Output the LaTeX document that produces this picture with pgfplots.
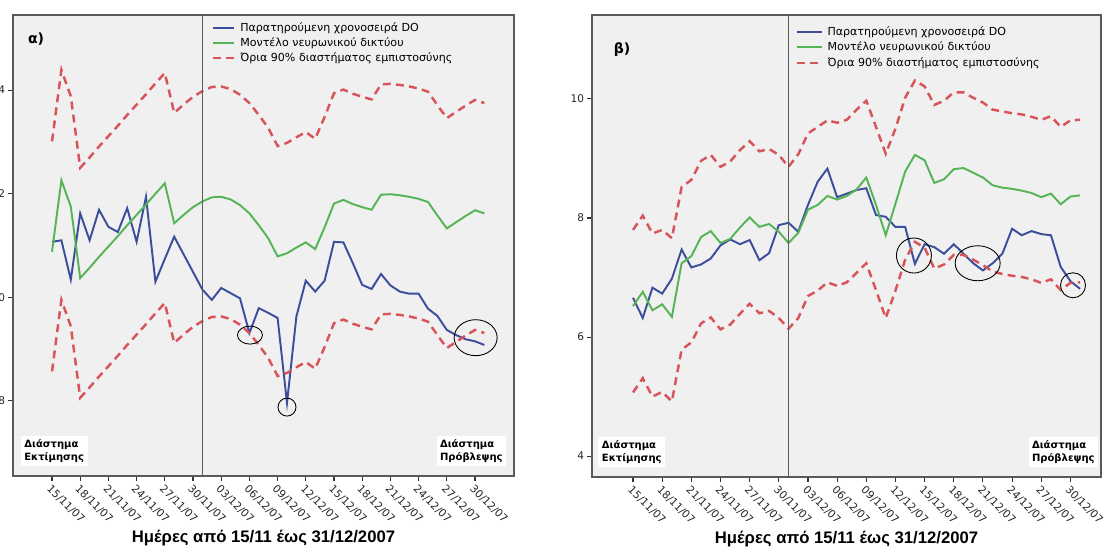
\documentclass[border=0pt]{standalone}
\usepackage{pgfplots}
\usepackage{pgfplotstable}
\pgfplotsset{compat=1.18}
\usepackage{fontspec}
\setmainfont{DejaVu Sans}
\newfontfamily\arialfont{Liberation Sans}

\definecolor{obsblue}{RGB}{60,78,155}
\definecolor{nngreen}{RGB}{85,180,85}
\definecolor{cired}{RGB}{215,85,90}
\definecolor{bgray}{RGB}{240,240,240}
\definecolor{framegray}{RGB}{90,90,90}

\pgfplotstableread{
d obs nn up lo
0 11.07 10.88 13.01 8.57
1 11.10 12.26 14.39 9.95
2 10.34 11.75 13.88 9.44
3 11.62 10.37 12.50 8.06
4 11.10 10.57 12.70 8.26
5 11.69 10.78 12.91 8.47
6 11.36 10.98 13.11 8.67
7 11.26 11.18 13.31 8.87
8 11.72 11.39 13.52 9.08
9 11.07 11.59 13.72 9.28
10 11.94 11.79 13.92 9.48
11 10.30 12.00 14.13 9.69
12 10.74 12.20 14.33 9.89
13 11.17 11.43 13.56 9.12
14 10.83 11.59 13.72 9.28
15 10.49 11.74 13.87 9.43
16 10.15 11.85 13.98 9.54
17 9.95 11.93 14.06 9.62
18 10.18 11.94 14.07 9.63
19 10.08 11.89 14.02 9.58
20 9.98 11.78 13.91 9.47
21 9.31 11.62 13.75 9.31
22 9.79 11.39 13.52 9.08
23 9.70 11.14 13.27 8.83
24 9.60 10.79 12.92 8.48
25 7.96 10.85 12.98 8.54
26 9.63 10.96 13.09 8.65
27 10.32 11.06 13.19 8.75
28 10.11 10.93 13.06 8.62
29 10.32 11.35 13.48 9.04
30 11.07 11.81 13.94 9.50
31 11.06 11.88 14.01 9.57
32 10.66 11.80 13.93 9.49
33 10.24 11.74 13.87 9.43
34 10.16 11.69 13.82 9.38
35 10.45 11.98 14.11 9.67
36 10.23 11.99 14.12 9.68
37 10.11 11.97 14.10 9.66
38 10.07 11.94 14.07 9.63
39 10.07 11.90 14.03 9.59
40 9.78 11.84 13.97 9.53
41 9.64 11.58 13.71 9.27
42 9.37 11.33 13.46 9.02
43 9.27 11.45 13.58 9.14
44 9.19 11.57 13.70 9.26
45 9.15 11.68 13.81 9.37
46 9.08 11.62 13.75 9.31
}\leftdata

\pgfplotstableread{
d obs nn up lo
0 6.66 6.52 7.80 5.07
1 6.32 6.76 8.04 5.31
2 6.83 6.45 7.74 5.00
3 6.73 6.55 7.80 5.08
4 6.98 6.34 7.66 4.92
5 7.47 7.24 8.52 5.79
6 7.17 7.36 8.64 5.91
7 7.22 7.68 8.96 6.23
8 7.32 7.78 9.06 6.33
9 7.54 7.58 8.86 6.13
10 7.64 7.65 8.95 6.21
11 7.56 7.84 9.14 6.39
12 7.63 8.01 9.29 6.56
13 7.29 7.85 9.12 6.40
14 7.41 7.90 9.16 6.44
15 7.88 7.77 9.06 6.32
16 7.92 7.58 8.86 6.14
17 7.77 7.75 9.07 6.32
18 8.22 8.14 9.42 6.69
19 8.61 8.22 9.53 6.78
20 8.83 8.37 9.64 6.92
21 8.35 8.31 9.60 6.86
22 8.41 8.37 9.65 6.92
23 8.47 8.48 9.82 7.08
24 8.50 8.68 9.97 7.24
25 8.05 8.22 9.53 6.79
26 8.02 7.71 9.08 6.32
27 7.85 8.24 9.50 6.78
28 7.85 8.78 10.02 7.30
29 7.23 9.06 10.31 7.60
30 7.56 8.97 10.21 7.50
31 7.51 8.59 9.90 7.15
32 7.40 8.65 9.97 7.22
33 7.56 8.82 10.11 7.38
34 7.40 8.84 10.11 7.38
35 7.24 8.76 10.02 7.30
36 7.12 8.68 9.94 7.21
37 7.24 8.55 9.82 7.10
38 7.40 8.51 9.79 7.06
39 7.82 8.49 9.76 7.03
40 7.71 8.46 9.74 7.01
41 7.78 8.42 9.70 6.97
42 7.73 8.35 9.65 6.91
43 7.71 8.41 9.71 6.97
44 7.18 8.23 9.53 6.79
45 6.94 8.36 9.64 6.91
46 6.81 8.38 9.65 6.92
}\rightdata

\tikzset{
  boxtext/.style={fill=white, align=left, font=\bfseries\fontsize{5.7}{7.6}\selectfont, inner sep=2pt},
  legtext/.style={anchor=west, inner sep=0pt, font=\fontsize{6.3}{7}\selectfont},
  obsline/.style={draw=obsblue, line width=1.1pt},
  nnline/.style={draw=nngreen, line width=1.1pt},
  ciline/.style={draw=cired, line width=1.4pt, dash pattern=on 4.5pt off 3pt},
}
\pgfplotsset{
  panel/.style={
    scale only axis,
    anchor=south west,
    axis background/.style={fill=bgray},
    axis line style={framegray, line width=0.8pt},
    tick align=outside,
    xtick pos=bottom, ytick pos=left,
    major tick length=0.1cm,
    tick style={black!80, line width=0.6pt},
    /pgf/number format/assume math mode=true,
    yticklabel style={font=\fontsize{6}{7}\selectfont, text=black!85, inner sep=1.5pt},
    xtick={0,3,...,45},
    xticklabels={15/11/07,18/11/07,21/11/07,24/11/07,27/11/07,30/11/07,03/12/07,06/12/07,09/12/07,12/12/07,15/12/07,18/12/07,21/12/07,24/12/07,27/12/07,30/12/07},
    xticklabel style={rotate=-45, anchor=north west, font=\fontsize{6.1}{7}\selectfont, text=black!85, inner sep=1pt},
    xlabel={\arialfont\bfseries Ημέρες από 15/11 έως 31/12/2007},
    xlabel style={at={(axis description cs:0.5,0)}, anchor=base, yshift=-1.34cm, font=\fontsize{9.5}{11}\selectfont},
  },
}

\begin{document}
\begin{tikzpicture}
\useasboundingbox (0,0) rectangle (22.08cm,11.04cm);
% Left panel
\begin{axis}[panel,
  at={(0.26cm,1.52cm)}, width=10.02cm, height=9.22cm,
  xmin=-4.15, xmax=49.15, ymin=6.55, ymax=15.45,
  ytick={8,10,12,14},
]
\addplot[obsline] table[x=d, y=obs] {\leftdata};
\addplot[nnline] table[x=d, y=nn] {\leftdata};
\addplot[ciline] table[x=d, y=up] {\leftdata};
\addplot[ciline] table[x=d, y=lo] {\leftdata};
\draw[framegray, line width=0.7pt] (axis cs:16,6.55) -- (axis cs:16,15.45);
\draw[black, line width=0.5pt] (axis cs:21.06,9.27) ellipse [x radius=0.25cm, y radius=0.18cm];
\draw[black, line width=0.5pt] (axis cs:25.0,7.88) ellipse [x radius=0.18cm, y radius=0.18cm];
\draw[black, line width=0.5pt] (axis cs:45.07,9.22) ellipse [x radius=0.43cm, y radius=0.36cm];
% legend
\draw[obsline] (rel axis cs:0.399,0.972) -- (rel axis cs:0.441,0.972);
\node[legtext] at (rel axis cs:0.453,0.972) {Παρατηρούμενη χρονοσειρά DO};
\draw[nnline] (rel axis cs:0.399,0.939) -- (rel axis cs:0.441,0.939);
\node[legtext] at (rel axis cs:0.453,0.939) {Μοντέλο νευρωνικού δικτύου};
\draw[ciline] (rel axis cs:0.399,0.907) -- (rel axis cs:0.441,0.907);
\node[legtext] at (rel axis cs:0.453,0.907) {Όρια 90\% διαστήματος εμπιστοσύνης};
\node[font=\bfseries\fontsize{8}{9}\selectfont] at (rel axis cs:0.046,0.948) {α)};
\node[boxtext, anchor=south west] at (rel axis cs:0.015,0.02) {Διάστημα\\Εκτίμησης};
\node[boxtext, anchor=south east] at (rel axis cs:0.985,0.02) {Διάστημα\\Πρόβλεψης};
\end{axis}
% Right panel
\begin{axis}[panel,
  at={(11.84cm,1.50cm)}, width=10.18cm, height=9.24cm,
  xmin=-4.22, xmax=48.15, ymin=3.65, ymax=11.41,
  ytick={4,6,8,10},
]
\addplot[obsline] table[x=d, y=obs] {\rightdata};
\addplot[nnline] table[x=d, y=nn] {\rightdata};
\addplot[ciline] table[x=d, y=up] {\rightdata};
\addplot[ciline] table[x=d, y=lo] {\rightdata};
\draw[framegray, line width=0.7pt] (axis cs:16,3.65) -- (axis cs:16,11.41);
\draw[black, line width=0.5pt] (axis cs:28.9,7.37) ellipse [x radius=0.35cm, y radius=0.35cm];
\draw[black, line width=0.5pt] (axis cs:35.46,7.24) ellipse [x radius=0.45cm, y radius=0.35cm];
\draw[black, line width=0.5pt] (axis cs:45.27,6.87) ellipse [x radius=0.25cm, y radius=0.25cm];
% legend
\draw[obsline] (rel axis cs:0.403,0.963) -- (rel axis cs:0.452,0.963);
\node[legtext] at (rel axis cs:0.462,0.963) {Παρατηρούμενη χρονοσειρά DO};
\draw[nnline] (rel axis cs:0.403,0.931) -- (rel axis cs:0.452,0.931);
\node[legtext] at (rel axis cs:0.462,0.931) {Μοντέλο νευρωνικού δικτύου};
\draw[ciline] (rel axis cs:0.403,0.896) -- (rel axis cs:0.452,0.896);
\node[legtext] at (rel axis cs:0.462,0.896) {Όρια 90\% διαστήματος εμπιστοσύνης};
\node[font=\bfseries\fontsize{8}{9}\selectfont] at (rel axis cs:0.059,0.926) {β)};
\node[boxtext, anchor=south west] at (rel axis cs:0.012,0.02) {Διάστημα\\Εκτίμησης};
\node[boxtext, anchor=south east] at (rel axis cs:0.995,0.02) {Διάστημα\\Πρόβλεψης};
\end{axis}
\end{tikzpicture}
\end{document}
